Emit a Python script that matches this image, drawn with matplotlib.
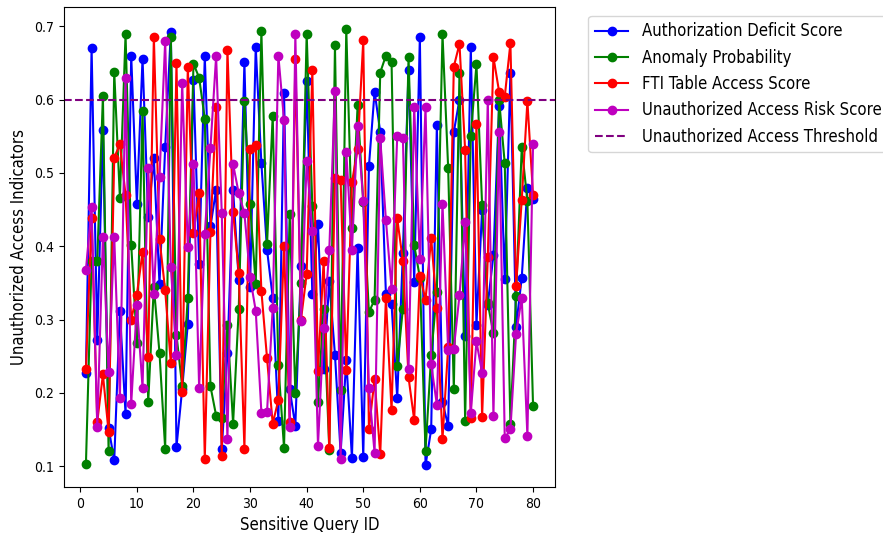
import numpy as np
import matplotlib
matplotlib.use("Agg")
import matplotlib.pyplot as plt

plt.rcParams["font.family"] = ["DejaVu Sans"]
plt.rcParams["font.stretch"] = "condensed"

# query ids 1..80
query_ids = list(range(1, 81))

auth_deficit = [
    0.227, 0.671, 0.272, 0.559, 0.152, 0.108, 0.312, 0.171, 0.660, 0.458,
    0.656, 0.440, 0.520, 0.348, 0.535, 0.692, 0.126, 0.205, 0.294, 0.627,
    0.376, 0.659, 0.427, 0.477, 0.123, 0.254, 0.477, 0.354, 0.651, 0.345,
    0.672, 0.513, 0.395, 0.330, 0.162, 0.609, 0.205, 0.155, 0.373, 0.625,
    0.335, 0.430, 0.232, 0.352, 0.252, 0.118, 0.245, 0.111, 0.398, 0.112,
    0.509, 0.611, 0.556, 0.335, 0.321, 0.193, 0.391, 0.641, 0.351, 0.686,
    0.101, 0.150, 0.565, 0.187, 0.155, 0.556, 0.600, 0.278, 0.672, 0.293,
    0.450, 0.320, 0.388, 0.591, 0.355, 0.637, 0.290, 0.357, 0.480, 0.465,
]

anomaly_prob = [
    0.103, 0.380, 0.380, 0.605, 0.121, 0.638, 0.466, 0.689, 0.402, 0.268,
    0.584, 0.187, 0.345, 0.254, 0.124, 0.685, 0.279, 0.209, 0.330, 0.649,
    0.630, 0.574, 0.209, 0.169, 0.166, 0.292, 0.158, 0.315, 0.598, 0.457,
    0.348, 0.693, 0.403, 0.578, 0.238, 0.125, 0.444, 0.200, 0.350, 0.690,
    0.455, 0.187, 0.315, 0.122, 0.674, 0.204, 0.696, 0.425, 0.592, 0.460,
    0.310, 0.327, 0.637, 0.660, 0.651, 0.236, 0.315, 0.658, 0.402, 0.357,
    0.121, 0.251, 0.338, 0.689, 0.507, 0.205, 0.637, 0.162, 0.551, 0.648,
    0.456, 0.322, 0.281, 0.600, 0.513, 0.158, 0.332, 0.535, 0.462, 0.182,
]

fti_access = [
    0.232, 0.438, 0.160, 0.225, 0.147, 0.521, 0.539, 0.470, 0.300, 0.334,
    0.392, 0.249, 0.686, 0.410, 0.340, 0.240, 0.650, 0.201, 0.645, 0.418,
    0.472, 0.110, 0.419, 0.590, 0.114, 0.668, 0.447, 0.364, 0.124, 0.532,
    0.538, 0.339, 0.247, 0.158, 0.190, 0.400, 0.160, 0.655, 0.300, 0.362,
    0.640, 0.230, 0.380, 0.125, 0.493, 0.490, 0.231, 0.487, 0.532, 0.681,
    0.150, 0.219, 0.116, 0.329, 0.176, 0.438, 0.380, 0.221, 0.163, 0.360,
    0.327, 0.411, 0.316, 0.137, 0.262, 0.645, 0.676, 0.531, 0.165, 0.567,
    0.167, 0.385, 0.658, 0.611, 0.604, 0.677, 0.346, 0.463, 0.598, 0.470,
]

risk_score = [
    0.368, 0.453, 0.153, 0.413, 0.228, 0.413, 0.193, 0.630, 0.185, 0.320,
    0.207, 0.507, 0.335, 0.495, 0.680, 0.372, 0.252, 0.623, 0.399, 0.512,
    0.207, 0.417, 0.534, 0.659, 0.445, 0.137, 0.512, 0.472, 0.445, 0.358,
    0.312, 0.173, 0.174, 0.316, 0.660, 0.572, 0.153, 0.689, 0.298, 0.516,
    0.421, 0.128, 0.288, 0.395, 0.612, 0.109, 0.529, 0.395, 0.564, 0.462,
    0.206, 0.118, 0.547, 0.436, 0.342, 0.550, 0.548, 0.233, 0.590, 0.382,
    0.590, 0.239, 0.184, 0.458, 0.258, 0.260, 0.333, 0.433, 0.173, 0.270,
    0.227, 0.600, 0.168, 0.556, 0.138, 0.150, 0.280, 0.330, 0.141, 0.539,
]

THRESHOLD = 0.6

fig = plt.figure(figsize=(8.83, 5.33), dpi=100)
ax = fig.add_subplot(111)
fig.subplots_adjust(left=0.072, right=0.629, top=0.986, bottom=0.086)

ax.plot(query_ids, auth_deficit, marker="o", color="blue", label="Authorization Deficit Score")
ax.plot(query_ids, anomaly_prob, marker="o", color="green", label="Anomaly Probability")
ax.plot(query_ids, fti_access, marker="o", color="red", label="FTI Table Access Score")
ax.plot(query_ids, risk_score, marker="o", color="m", label="Unauthorized Access Risk Score")
ax.axhline(THRESHOLD, color="purple", linestyle="--", label="Unauthorized Access Threshold")

ax.set_xlabel("Sensitive Query ID", fontsize=12)
ax.set_ylabel("Unauthorized Access Indicators", fontsize=12)
ax.legend(bbox_to_anchor=(1.05, 1), loc="upper left", fontsize=12)

fig.savefig("out.png", dpi=100)
